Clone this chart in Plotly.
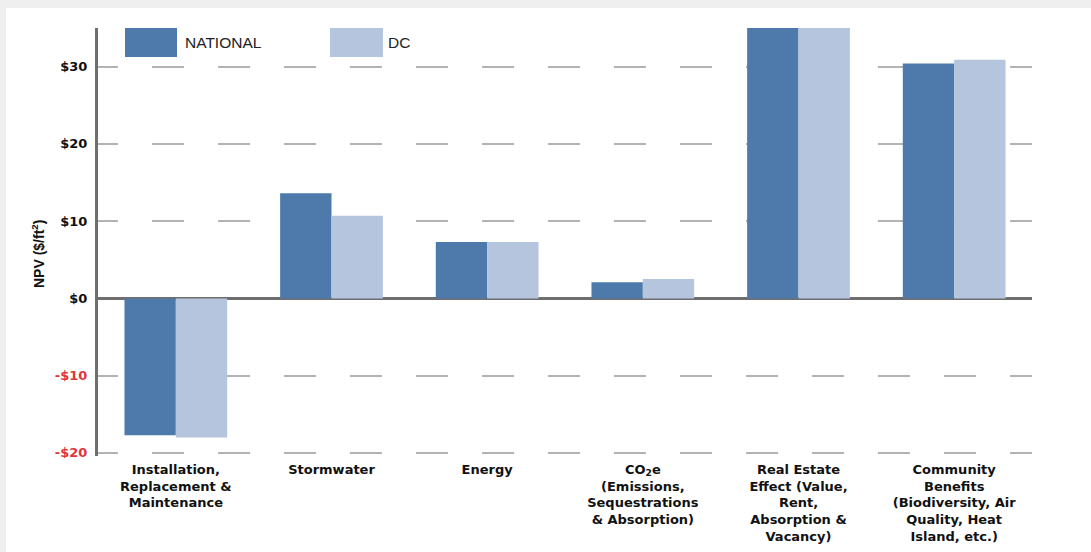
import plotly.graph_objects as go

categories = [
    "Installation,<br>Replacement &amp;<br>Maintenance",
    "Stormwater",
    "Energy",
    "CO<sub>2</sub>e<br>(Emissions,<br>Sequestrations<br>&amp; Absorption)",
    "Real Estate<br>Effect (Value,<br>Rent,<br>Absorption &amp;<br>Vacancy)",
    "Community<br>Benefits<br>(Biodiversity, Air<br>Quality, Heat<br>Island, etc.)",
]
national = [-17.7, 13.6, 7.3, 2.1, 35.0, 30.4]
dc = [-18.0, 10.7, 7.3, 2.5, 35.0, 30.9]
series_names = ["NATIONAL", "DC"]
tick_vals = [-20, -10, 0, 10, 20, 30]
tick_text = ["<span style='color:#e0353b'>-$20</span>",
             "<span style='color:#e0353b'>-$10</span>",
             "$0", "$10", "$20", "$30"]
y_range = [-20.4, 35]

C_NAT = "#4e7aab"
C_DC = "#b5c5dd"
FONT = "Liberation Sans, Arial, sans-serif"
FONT_B = "DejaVu Sans, Liberation Sans, Arial, sans-serif"

W, H = 1091, 552
L, R, T, B = 98, 59, 28, 96
PW, PH = W - L - R, H - T - B


def px_x(p):
    return (p - L) / PW


def px_y(p):
    return (H - B - p) / PH


dash = ",".join(["20px", "34px"] + ["32px", "34px"] * 16)

fig = go.Figure()
fig.add_trace(go.Bar(x=categories, y=national, name=series_names[0],
                     marker=dict(color=C_NAT, line=dict(width=0))))
fig.add_trace(go.Bar(x=categories, y=dc, name=series_names[1],
                     marker=dict(color=C_DC, line=dict(width=0))))

shapes = [
    # page frame strips
    dict(type="rect", xref="paper", yref="paper", x0=px_x(0), x1=px_x(W),
         y0=px_y(8), y1=px_y(0), fillcolor="#efefef", line=dict(width=0), layer="below"),
    dict(type="rect", xref="paper", yref="paper", x0=px_x(0), x1=px_x(6),
         y0=px_y(H), y1=px_y(0), fillcolor="#efefef", line=dict(width=0), layer="below"),
    # legend swatches
    dict(type="rect", xref="paper", yref="paper", x0=px_x(125), x1=px_x(177),
         y0=px_y(57), y1=px_y(28), fillcolor=C_NAT, line=dict(width=0)),
    dict(type="rect", xref="paper", yref="paper", x0=px_x(330), x1=px_x(383),
         y0=px_y(57), y1=px_y(28), fillcolor=C_DC, line=dict(width=0)),
]

annotations = [
    dict(text=series_names[0], xref="paper", yref="paper", x=px_x(183), y=px_y(43),
         xanchor="left", yanchor="middle", showarrow=False,
         font=dict(family=FONT, size=15.5, color="#222222")),
    dict(text=series_names[1], xref="paper", yref="paper", x=px_x(386), y=px_y(43),
         xanchor="left", yanchor="middle", showarrow=False,
         font=dict(family=FONT, size=15.5, color="#222222")),
    dict(text="<b>NPV ($/ft<sup>2</sup>)</b>", xref="paper", yref="paper",
         x=px_x(38), y=px_y(254), xanchor="center", yanchor="middle",
         textangle=-90, showarrow=False,
         font=dict(family=FONT, size=14, color="#111111")),
]

fig.update_layout(
    width=W, height=H,
    margin=dict(l=L, r=R, t=T, b=B, pad=0),
    paper_bgcolor="white", plot_bgcolor="white",
    barmode="group", bargap=0.34, bargroupgap=0,
    showlegend=False,
    shapes=shapes, annotations=annotations,
    xaxis=dict(range=[-0.5, 5.5], showgrid=False, showline=False, zeroline=False,
               automargin=False,
               ticks="outside", ticklen=1, tickcolor="rgba(0,0,0,0)",
               tickfont=dict(family=FONT_B, size=13, color="#111111", weight="bold"),
               tickangle=0),
    yaxis=dict(range=y_range, tickvals=tick_vals, ticktext=tick_text,
               automargin=False,
               showgrid=True, gridcolor="#b3b3b3", gridwidth=2, griddash=dash,
               zeroline=True, zerolinecolor="#6e6e6e", zerolinewidth=2.5,
               showline=True, linecolor="#6e6e6e", linewidth=3,
               ticks="outside", ticklen=5, tickcolor="rgba(0,0,0,0)",
               tickfont=dict(family=FONT_B, size=13, color="#111111", weight="bold")),
)

fig.write_html("out.html")
